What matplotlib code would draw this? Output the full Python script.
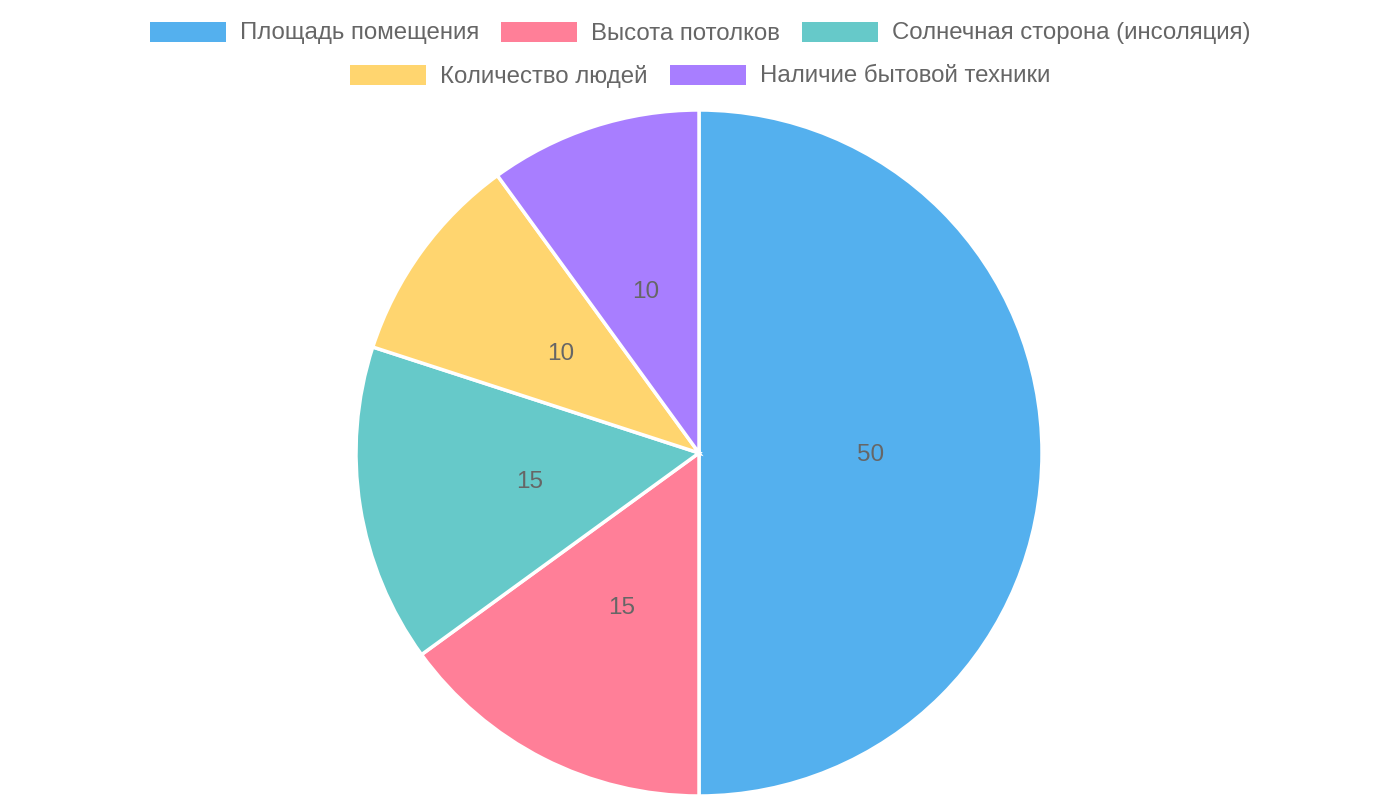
import matplotlib.pyplot as plt
from matplotlib.patches import Rectangle

plt.rcParams["font.family"] = ["Liberation Sans", "DejaVu Sans"]

labels = [
    "Площадь помещения",
    "Высота потолков",
    "Солнечная сторона (инсоляция)",
    "Количество людей",
    "Наличие бытовой техники",
]
values = [50, 15, 15, 10, 10]
colors = ["#54B0EE", "#FF7F98", "#66C9C9", "#FFD56F", "#A87EFF"]
legend_rows = [[0, 1, 2], [3, 4]]

W, H = 1400, 800
TEXT_COLOR = "#666666"
FONT_SIZE = 17.5
LEGEND_FONT_SIZE = 17.3


def main():
    fig = plt.figure(figsize=(W / 100, H / 100), dpi=100)
    ax = fig.add_axes([0, 0, 1, 1])

    total = sum(values)
    _, _, autotexts = ax.pie(
        values,
        colors=colors,
        startangle=90,
        counterclock=False,
        center=(699, H - 453),
        radius=343,
        wedgeprops=dict(edgecolor="white", linewidth=2.5),
        autopct=lambda p: f"{p * total / 100:.0f}",
        pctdistance=0.5,
        textprops=dict(color=TEXT_COLOR, fontsize=FONT_SIZE),
    )
    for t in autotexts:
        t.set_y(t.get_position()[1] - 2)
    ax.set_xlim(0, W)
    ax.set_ylim(0, H)
    ax.set_aspect("equal")
    ax.axis("off")

    # легенда рядками по центру, як у Chart.js
    renderer = fig.canvas.get_renderer()
    box_w, box_h, pad, gap = 76, 20, 14, 22
    row_y = [32, 75]
    for row, y in zip(legend_rows, row_y):
        texts = [ax.text(0, H - y + 1, labels[i], fontsize=LEGEND_FONT_SIZE,
                         color=TEXT_COLOR, va="center_baseline", ha="left")
                 for i in row]
        widths = [t.get_window_extent(renderer).width for t in texts]
        row_w = sum(box_w + pad + w for w in widths) + gap * (len(row) - 1)
        x = 700 - row_w / 2
        for i, t, w in zip(row, texts, widths):
            ax.add_patch(Rectangle((x, H - y - box_h / 2), box_w, box_h,
                                   facecolor=colors[i], edgecolor="none"))
            t.set_x(x + box_w + pad)
            x += box_w + pad + w + gap

    fig.savefig("out.png", dpi=100, facecolor="white")


if __name__ == "__main__":
    main()
